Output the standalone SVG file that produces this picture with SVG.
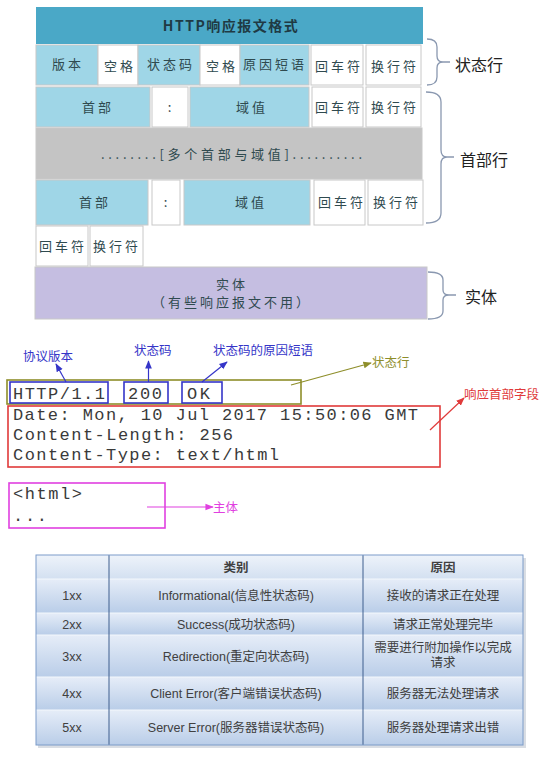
<svg xmlns="http://www.w3.org/2000/svg" width="557" height="757" viewBox="0 0 557 757">
<defs>
<style>
.cell{stroke:#c8c8c8;stroke-width:1}
.lb{fill:#9fd6e7}
.wh{fill:#ffffff}
.ct{font-family:"Noto Sans CJK SC","Noto Sans CJK JP",sans-serif;font-size:13px;letter-spacing:3px;fill:#2f4a4f;text-anchor:middle}
.side{font-family:"Noto Sans CJK SC",sans-serif;font-size:16px;fill:#222}
.brace{fill:none;stroke:#8a98b0;stroke-width:1.3}
.mono{font-family:"Liberation Mono","Courier New",monospace;font-size:17px;fill:#3a3a3a}
.lbl{font-family:"Noto Sans CJK SC",sans-serif;font-size:12.5px}
.tt{font-family:"Liberation Sans","Noto Sans CJK SC",sans-serif;font-size:12.5px;fill:#404040;text-anchor:middle}
</style>
<marker id="ab" viewBox="0 0 10 10" refX="9" refY="5" markerWidth="7" markerHeight="7" orient="auto"><path d="M0,1 L10,5 L0,9 z" fill="#3535c8"/></marker>
<marker id="ao" viewBox="0 0 10 10" refX="9" refY="5" markerWidth="7" markerHeight="7" orient="auto"><path d="M0,1 L10,5 L0,9 z" fill="#8e8e2a"/></marker>
<marker id="ar" viewBox="0 0 10 10" refX="9" refY="5" markerWidth="7" markerHeight="7" orient="auto"><path d="M0,1 L10,5 L0,9 z" fill="#e03a3a"/></marker>
<marker id="am" viewBox="0 0 10 10" refX="9" refY="5" markerWidth="7" markerHeight="7" orient="auto"><path d="M0,1 L10,5 L0,9 z" fill="#e040e0"/></marker>
<linearGradient id="rowg" x1="0" y1="0" x2="0" y2="1"><stop offset="0" stop-color="#e6edf8"/><stop offset="1" stop-color="#b9cde8"/></linearGradient>
<linearGradient id="headg" x1="0" y1="0" x2="0" y2="1"><stop offset="0" stop-color="#eef3fa"/><stop offset="1" stop-color="#d3e0f1"/></linearGradient>
</defs>
<rect width="557" height="757" fill="#ffffff"/>

<g id="format">
<rect x="36" y="7" width="387" height="37" fill="#4aa8c7"/>
<text x="231" y="31" font-family="Noto Sans CJK SC,sans-serif" font-size="14" font-weight="bold" letter-spacing="1.5" fill="#1f3a44" text-anchor="middle">HTTP响应报文格式</text>

<rect class="cell lb" x="36" y="45" width="62" height="40"/>
<rect class="cell wh" x="98" y="45" width="40" height="40"/>
<rect class="cell lb" x="138" y="45" width="62" height="40"/>
<rect class="cell wh" x="200" y="45" width="40" height="40"/>
<rect class="cell lb" x="240" y="45" width="69" height="40"/>
<rect class="cell wh" x="311" y="45" width="52" height="40"/>
<rect class="cell wh" x="366" y="45" width="55" height="40"/>
<text class="ct" x="68" y="69">版本</text>
<text class="ct" x="120" y="71">空格</text>
<text class="ct" x="171" y="69">状态码</text>
<text class="ct" x="222" y="71">空格</text>
<text class="ct" x="275" y="69" letter-spacing="2">原因短语</text>
<text class="ct" x="339" y="71">回车符</text>
<text class="ct" x="395" y="71">换行符</text>

<rect class="cell lb" x="36" y="87" width="114" height="40"/>
<rect class="cell wh" x="152" y="87" width="36" height="40"/>
<rect class="cell lb" x="190" y="87" width="119" height="40"/>
<rect class="cell wh" x="312" y="87" width="51" height="40"/>
<rect class="cell wh" x="366" y="87" width="55" height="40"/>
<text class="ct" x="98" y="112">首部</text>
<text class="ct" x="171" y="112">:</text>
<text class="ct" x="252" y="112">域值</text>
<text class="ct" x="339" y="112">回车符</text>
<text class="ct" x="395" y="112">换行符</text>

<rect class="cell" x="36" y="128" width="386" height="51" fill="#c4c4c4"/>
<text x="101" y="159" textLength="261" font-family="Noto Sans CJK SC,sans-serif" font-size="13" fill="#2f4a4f">........[多个首部与域值]..........</text>

<rect class="cell lb" x="36" y="180" width="112" height="45"/>
<rect class="cell wh" x="152" y="180" width="28" height="45"/>
<rect class="cell lb" x="184" y="180" width="126" height="45"/>
<rect class="cell wh" x="314" y="180" width="51" height="45"/>
<rect class="cell wh" x="368" y="180" width="55" height="45"/>
<text class="ct" x="95" y="207">首部</text>
<text class="ct" x="167" y="207">:</text>
<text class="ct" x="251" y="207">域值</text>
<text class="ct" x="342" y="207">回车符</text>
<text class="ct" x="397" y="207">换行符</text>

<rect class="cell wh" x="36" y="226" width="52" height="40"/>
<rect class="cell wh" x="90" y="226" width="53" height="40"/>
<text class="ct" x="63" y="251" letter-spacing="1.5">回车符</text>
<text class="ct" x="117" y="251" letter-spacing="1.5">换行符</text>

<rect class="cell" x="35" y="267" width="392" height="52" fill="#c5bee1"/>
<text class="ct" x="232" y="289" font-size="12">实体</text>
<text class="ct" x="232" y="307" font-size="12" letter-spacing="2.5">（有些响应报文不用）</text>
</g>

<g id="braces">
<path class="brace" d="M427,39 Q437,39 437,47 L437,56 Q437,62 443,62 Q437,62 437,68 L437,77 Q437,85 427,85 M442,62 L450,62"/>
<text class="side" x="455" y="71">状态行</text>
<path class="brace" d="M426,92 Q441,92 441,102 L441,150 Q441,157 447,157 Q441,157 441,164 L441,213 Q441,223 426,223 M446,157 L454,157"/>
<text class="side" x="460" y="166">首部行</text>
<path class="brace" d="M428,272 Q443,272 443,280 L443,290 Q443,295 449,295 Q443,295 443,300 L443,311 Q443,319 428,319 M448,295 L456,295"/>
<text class="side" x="465" y="303">实体</text>
</g>

<g id="message">
<rect x="7" y="380" width="294" height="24" fill="none" stroke="#8e8e2a" stroke-width="1.6"/>
<rect x="10" y="382" width="98" height="21" fill="none" stroke="#3535c8" stroke-width="1.6"/>
<rect x="124" y="382" width="44" height="21" fill="none" stroke="#3535c8" stroke-width="1.6"/>
<rect x="182" y="382" width="40" height="21" fill="none" stroke="#3535c8" stroke-width="1.6"/>
<text class="mono" x="13" y="399" textLength="92">HTTP/1.1</text>
<text class="mono" x="128" y="399" textLength="34">200</text>
<text class="mono" x="187" y="399" textLength="23">OK</text>
<rect x="8" y="406" width="432" height="61" fill="none" stroke="#e03a3a" stroke-width="1.6"/>
<text class="mono" x="13" y="420" textLength="405">Date: Mon, 10 Jul 2017 15:50:06 GMT</text>
<text class="mono" x="13" y="440" textLength="220">Content-Length: 256</text>
<text class="mono" x="13" y="460" textLength="266">Content-Type: text/html</text>
<rect x="9" y="483" width="156" height="45" fill="none" stroke="#e040e0" stroke-width="1.6"/>
<text class="mono" x="13" y="499" textLength="69">&lt;html&gt;</text>
<text class="mono" x="13" y="521" textLength="34">...</text>
</g>

<g id="labels">
<text class="lbl" x="23" y="361" fill="#3535c8">协议版本</text>
<text class="lbl" x="134" y="355" fill="#3535c8">状态码</text>
<text class="lbl" x="213" y="355" fill="#3535c8">状态码的原因短语</text>
<text class="lbl" x="372" y="367" fill="#8e8e2a">状态行</text>
<text class="lbl" x="464" y="399" fill="#e03a3a">响应首部字段</text>
<text class="lbl" x="213" y="512" fill="#e040e0">主体</text>
</g>

<g id="connectors">
<line x1="66" y1="382" x2="56" y2="364" stroke="#3535c8" stroke-width="1.2" marker-end="url(#ab)"/>
<line x1="148.5" y1="382" x2="148.5" y2="361" stroke="#3535c8" stroke-width="1.2" marker-end="url(#ab)"/>
<line x1="202" y1="382" x2="227" y2="362" stroke="#3535c8" stroke-width="1.2" marker-end="url(#ab)"/>
<line x1="291" y1="385" x2="371" y2="363" stroke="#8e8e2a" stroke-width="1.2" marker-end="url(#ao)"/>
<line x1="430" y1="430" x2="464" y2="398" stroke="#e03a3a" stroke-width="1.2" marker-end="url(#ar)"/>
<line x1="147" y1="507" x2="213" y2="507" stroke="#e040e0" stroke-width="1.2" marker-end="url(#am)"/>
</g>

<g id="table">
<rect x="38" y="558" width="488" height="190" fill="#d9dde3"/>
<rect x="36" y="555" width="487" height="24" fill="url(#headg)"/>
<rect x="36" y="579" width="487" height="34" fill="url(#rowg)"/>
<rect x="36" y="613" width="487" height="22" fill="url(#rowg)"/>
<rect x="36" y="635" width="487" height="42" fill="url(#rowg)"/>
<rect x="36" y="677" width="487" height="33" fill="url(#rowg)"/>
<rect x="36" y="710" width="487" height="35" fill="url(#rowg)"/>
<g stroke="#f4f7fc" stroke-width="1.2">
<line x1="36" y1="579" x2="523" y2="579"/>
<line x1="36" y1="613" x2="523" y2="613"/>
<line x1="36" y1="635" x2="523" y2="635"/>
<line x1="36" y1="677" x2="523" y2="677"/>
<line x1="36" y1="710" x2="523" y2="710"/>
</g>
<line x1="109" y1="555" x2="109" y2="745" stroke="#3f5f8e" stroke-width="1"/>
<line x1="363" y1="555" x2="363" y2="745" stroke="#3f5f8e" stroke-width="1"/>
<rect x="36" y="555" width="487" height="190" fill="none" stroke="#7c9cc9" stroke-width="1"/>
<text class="tt" x="236" y="572" font-weight="bold">类别</text>
<text class="tt" x="443" y="572" font-weight="bold">原因</text>
<text class="tt" x="72" y="600">1xx</text>
<text class="tt" x="236" y="600">Informational(信息性状态码)</text>
<text class="tt" x="443" y="600">接收的请求正在处理</text>
<text class="tt" x="72" y="629">2xx</text>
<text class="tt" x="236" y="629">Success(成功状态码)</text>
<text class="tt" x="443" y="629">请求正常处理完毕</text>
<text class="tt" x="72" y="661">3xx</text>
<text class="tt" x="236" y="661">Redirection(重定向状态码)</text>
<text class="tt" x="443" y="652">需要进行附加操作以完成</text>
<text class="tt" x="443" y="667">请求</text>
<text class="tt" x="72" y="698">4xx</text>
<text class="tt" x="236" y="698">Client Error(客户端错误状态码)</text>
<text class="tt" x="443" y="698">服务器无法处理请求</text>
<text class="tt" x="72" y="732">5xx</text>
<text class="tt" x="236" y="732">Server Error(服务器错误状态码)</text>
<text class="tt" x="443" y="732">服务器处理请求出错</text>
</g>
</svg>
